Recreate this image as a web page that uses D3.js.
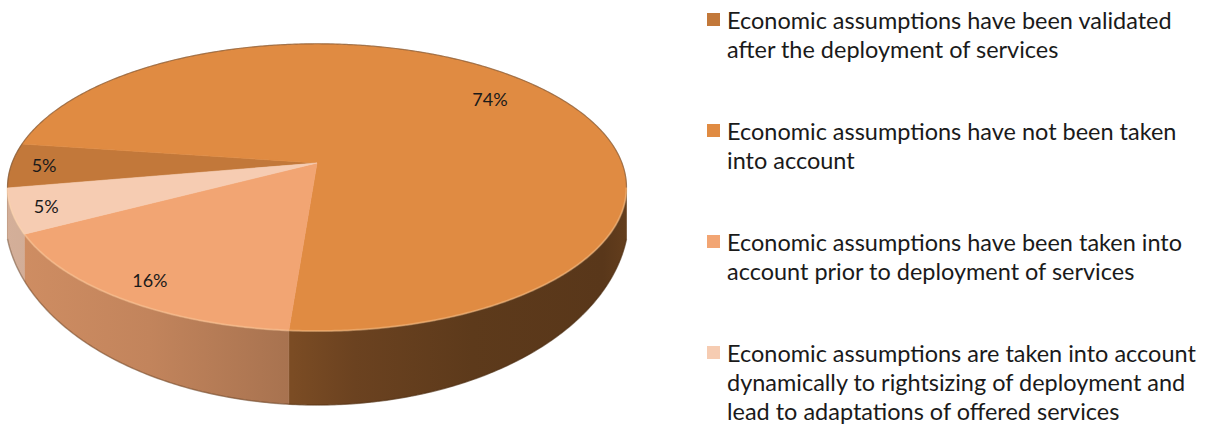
<!DOCTYPE html>
<html>
<head>
<meta charset="utf-8">
<script src="https://cdn.jsdelivr.net/npm/d3@7"></script>
<style>
  html, body { margin: 0; padding: 0; background: #ffffff; }
  svg { display: block; }
</style>
</head>
<body>
<svg id="chart" width="1212" height="428"></svg>
<script>
// ---- data ----
const categories = [
  ["Economic assumptions have been validated", "after the deployment of services"],
  ["Economic assumptions have not been taken", "into account"],
  ["Economic assumptions have been taken into", "account prior to deployment of services"],
  ["Economic assumptions are taken into account", "dynamically to rightsizing of deployment and", "lead to adaptations of offered services"]
];
const values = [5, 74, 16, 5];
const sliceColors = ["#c2783a", "#e08b42", "#f2a573", "#f6ccb2"];

// ---- layout ----
const svg = d3.select("#chart");
const FONT = "Lato, 'Open Sans', sans-serif";

const cx = 317, cy = 163;        // projected centre of the top face
const R = 305, RY = 139.5;       // top-face radii
const K = 0.17;                  // perspective strength (near side larger)
const base = { cy: 215, rx: 312, ry: 190 };   // silhouette of the pie's underside
const startDeg = 260;

const pie = d3.pie().sort(null).value(d => d)
  .startAngle(startDeg * Math.PI / 180)
  .endAngle(startDeg * Math.PI / 180 + 2 * Math.PI);
const arcs = pie(values);

// perspective projection of a point on the top disc (angle clockwise from 12 o'clock)
function topPoint(theta, r = 1) {
  const u = Math.sin(theta) * r, v = -Math.cos(theta) * r;
  const s = 1 / (1 - K * v);
  return [cx + R * u * s, cy + RY * v * s];
}
function baseY(x) {
  const t = (x - cx) / base.rx;
  return base.cy + base.ry * Math.sqrt(Math.max(0, 1 - t * t));
}
function arcPoints(a0, a1, r = 1) {
  const n = Math.max(2, Math.ceil(Math.abs(a1 - a0) / (Math.PI / 360)));
  return d3.range(n + 1).map(i => topPoint(a0 + (a1 - a0) * i / n, r));
}
const line = d3.line();

// front (visible) half of the rim lies between the two horizon angles
const h0 = Math.acos(-K), h1 = 2 * Math.PI - Math.acos(-K);

// ---- side shading gradients ----
// light falls from the left; darker face colours give proportionally darker walls
const defs = svg.append("defs");
const shadeStops = [[0, 0.86], [0.23, 0.80], [0.46, 0.69], [0.56, 0.60], [0.75, 0.52], [0.96, 0.50], [1, 0.56]];
const refL = d3.hsl(sliceColors[2]).l;
sliceColors.forEach((c, i) => {
  const g = defs.append("linearGradient")
    .attr("id", "side" + i)
    .attr("gradientUnits", "userSpaceOnUse")
    .attr("x1", cx - R - 6).attr("x2", cx + R + 6).attr("y1", 0).attr("y2", 0);
  const rgb = d3.rgb(c);
  const tone = Math.min(1, Math.pow(d3.hsl(c).l / refL, 1.1));
  shadeStops.forEach(([o, m]) => {
    const f = m * tone;
    g.append("stop").attr("offset", o)
      .attr("stop-color", d3.rgb(rgb.r * f, rgb.g * f, rgb.b * f).formatHex());
  });
});

const pieG = svg.append("g");

// ---- sides ----
arcs.forEach((d, i) => {
  [-2 * Math.PI, 0, 2 * Math.PI].forEach(shift => {
    const lo = Math.max(d.startAngle + shift, h0);
    const hi = Math.min(d.endAngle + shift, h1);
    if (hi <= lo) return;
    const upper = arcPoints(lo, hi);
    const lower = upper.slice().reverse().map(([x, y]) => [x, Math.max(baseY(x), y + 1)]);
    pieG.append("path")
      .attr("d", line(upper.concat(lower)) + "Z")
      .attr("fill", `url(#side${i})`)
      .attr("stroke", `url(#side${i})`)
      .attr("stroke-width", 0.6);
  });
});

// soft shadow line along the lower edge
const lowerEdge = arcPoints(h0, h1).map(([x, y]) => [x, Math.max(baseY(x), y + 1)]);
pieG.append("path")
  .attr("d", line(lowerEdge))
  .attr("fill", "none")
  .attr("stroke", "rgba(70,40,15,0.35)")
  .attr("stroke-width", 1.5);

// ---- top face ----
arcs.forEach((d, i) => {
  const pts = [[cx, cy]].concat(arcPoints(d.startAngle, d.endAngle));
  pieG.append("path")
    .attr("d", line(pts) + "Z")
    .attr("fill", sliceColors[i])
    .attr("stroke", sliceColors[i])
    .attr("stroke-width", 0.6)
    .attr("stroke-linejoin", "round");
});

// rim: faint dark outline at the back, light bevel at the front
pieG.append("path")
  .attr("d", line(arcPoints(h1 - 2 * Math.PI, h0)))
  .attr("fill", "none")
  .attr("stroke", "rgba(105,75,50,0.55)")
  .attr("stroke-width", 1.2);
pieG.append("path")
  .attr("d", line(arcPoints(h0, h1)))
  .attr("fill", "none")
  .attr("stroke", "rgba(255,215,170,0.35)")
  .attr("stroke-width", 2);

// ---- value labels (larger slices pull their label towards the centre) ----
const total = d3.sum(values);
arcs.forEach((d, i) => {
  const mid = (d.startAngle + d.endAngle) / 2;
  const r = 0.9 - 0.15 * d.value / total;
  const [x, y] = topPoint(mid, r);
  svg.append("text")
    .attr("x", x).attr("y", y)
    .attr("text-anchor", "middle")
    .attr("dominant-baseline", "central")
    .attr("font-family", FONT)
    .attr("font-size", 18)
    .attr("fill", "#1a1a1a")
    .text(d3.format(".0f")(d.value / total * 100) + "%");
});

// ---- legend ----
const legend = svg.append("g").attr("font-family", FONT).attr("fill", "#1a1a1a");
// size the legend text so the first line spans its column
const probe = legend.append("text").attr("font-size", 20).text(categories[0][0]);
const fontSize = 20 * 445 / probe.node().getComputedTextLength();
probe.remove();

const legendX = 707, firstBaseline = 29, rowStep = 111, lineH = 29, sq = 13;
categories.forEach((lines, i) => {
  const b = firstBaseline + i * rowStep;
  legend.append("rect")
    .attr("x", legendX).attr("y", b - 16)
    .attr("width", sq).attr("height", sq)
    .attr("fill", sliceColors[i]);
  const t = legend.append("text")
    .attr("x", legendX + 20).attr("y", b)
    .attr("font-size", fontSize);
  lines.forEach((ln, j) => {
    t.append("tspan").attr("x", legendX + 20).attr("y", b + j * lineH).text(ln);
  });
});
</script>
</body>
</html>
